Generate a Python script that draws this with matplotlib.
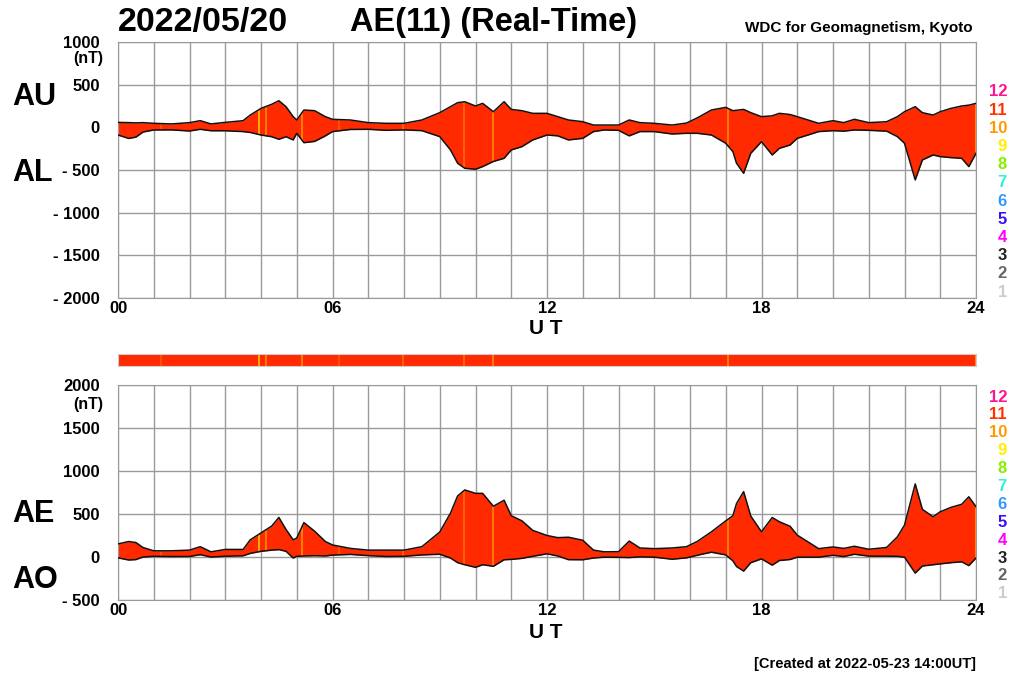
import numpy as np
import matplotlib
matplotlib.use("Agg")
import matplotlib.pyplot as plt

plt.rcParams['font.family'] = ['Liberation Sans', 'DejaVu Sans']
plt.rcParams['font.weight'] = 'bold'

# hours UT
t = [0, 0.3, 0.5, 0.7, 1, 1.5, 2, 2.3, 2.6, 3, 3.5, 3.7, 4, 4.3, 4.5, 4.7, 4.9, 5.0,
     5.2, 5.5, 5.8, 6, 6.5, 7, 7.5, 8, 8.5, 9, 9.3, 9.5, 9.7, 10, 10.2, 10.5, 10.8,
     11, 11.3, 11.6, 12, 12.3, 12.6, 13, 13.3, 13.6, 14, 14.3, 14.6, 15, 15.5, 15.9,
     16.2, 16.6, 17, 17.2, 17.3, 17.5, 17.7, 18, 18.3, 18.5, 18.8, 19, 19.3, 19.6,
     20, 20.3, 20.6, 21, 21.5, 21.8, 22, 22.3, 22.5, 22.8, 23, 23.3, 23.6, 23.8, 24]

au = [58, 55, 52, 55, 47, 40, 55, 78, 40, 58, 78, 144, 222, 270, 312, 242, 125, 86,
      203, 195, 125, 94, 86, 55, 47, 47, 86, 172, 242, 289, 300, 250, 281, 183, 300,
      210, 195, 164, 164, 125, 86, 66, 27, 27, 27, 86, 55, 47, 27, 50,
      110, 203, 234, 195, 200, 210, 172, 125, 135, 164, 150, 125, 86, 47,
      78, 55, 94, 55, 66, 125, 183, 242, 172, 144, 183, 222, 250, 260, 281]

al = [-90, -130, -115, -55, -31, -30, -43, -23, -40, -40, -50, -60, -90, -110, -140, -110, -148, -70,
      -180, -165, -100, -50, -25, -23, -35, -30, -39, -109, -265, -421, -480, -491, -460, -400, -363,
      -265, -226, -148, -90, -100, -148, -129, -50, -31, -35, -100, -50, -50, -78, -70,
      -70, -90, -187, -285, -420, -538, -304, -168, -324, -246, -207, -129, -90, -50,
      -39, -45, -31, -35, -45, -109, -187, -616, -382, -324, -343, -355, -363, -460, -304]

ae = [152, 180, 168, 110, 72, 72, 80, 120, 60, 88, 88, 200, 280, 360, 460, 320, 200, 220,
      400, 300, 180, 140, 100, 80, 80, 80, 120, 290, 510, 710, 780, 740, 740, 590, 660,
      480, 420, 310, 250, 225, 230, 195, 80, 60, 62, 185, 105, 97, 105, 120,
      180, 293, 420, 480, 620, 760, 476, 293, 459, 410, 357, 254, 176, 97,
      117, 100, 125, 90, 111, 234, 370, 850, 554, 468, 526, 577, 613, 700, 585]

ao = [-10, -35, -30, 0, 8, 5, 6, 27, 0, 9, 14, 42, 66, 80, 86, 66, -12, 8,
      12, 15, 12, 22, 30, 16, 6, 8, 24, 32, -12, -66, -90, -120, -90, -108, -32,
      -28, -16, 8, 37, 12, -31, -32, -12, -2, -4, -7, 2, -2, -26, -10,
      20, 56, 24, -45, -110, -164, -66, -22, -95, -41, -29, -2, -2, -2,
      20, 5, 32, 10, 10, 8, -2, -187, -105, -90, -80, -66, -56, -100, -12]

# times where fewer stations were used (lighter stripes)
stripe_t = [1.2, 3.94, 4.14, 5.16, 6.18, 7.96, 9.68, 10.5, 17.05, 24.0]
stripe_c = ['#ff5a00', '#ffc400', '#ff8c00', '#ff9000', '#ff5a00', '#ff7000',
            '#ff7000', '#ff8c00', '#ff8c00', '#ff9900']

station_n = ['12', '11', '10', '9', '8', '7', '6', '5', '4', '3', '2', '1']
station_c = ['#ff1493', '#ff3300', '#ff9900', '#ffee00', '#88ee00', '#33eedd',
             '#3399ff', '#3311ff', '#ff00ff', '#222222', '#666666', '#cccccc']

RED = '#ff2a00'
W, H = 1011, 680


def px(x, y):
    return x / W, 1 - y / H


def panel(rect, lo, hi, ylim, yticks, ylabels):
    ax = fig.add_axes(rect)
    ax.fill_between(t, lo, hi, color=RED, lw=0, zorder=2)
    tt = np.array(t)
    for s, c in zip(stripe_t, stripe_c):
        ax.vlines(s, np.interp(s, tt, lo), np.interp(s, tt, hi), color=c, lw=1.2, zorder=3)
    ax.plot(t, hi, color='#111111', lw=1.1, zorder=4)
    ax.plot(t, lo, color='#111111', lw=1.1, zorder=4)
    ax.set_xlim(0, 24)
    ax.set_ylim(*ylim)
    ax.set_xticks(range(25))
    ax.set_xticklabels(['%02d' % h if h % 6 == 0 else '' for h in range(25)], fontsize=12)
    ax.set_yticks(yticks)
    ax.set_yticklabels(ylabels, fontsize=12)
    ax.tick_params(length=0)
    ax.tick_params(axis='y', pad=13)
    ax.tick_params(axis='x', pad=2)
    ax.grid(color='#9a9a9a', lw=1, zorder=1)
    for sp in ax.spines.values():
        sp.set_color('#9a9a9a')
    return ax


fig = plt.figure(figsize=(W / 100, H / 100), dpi=100)

ax1 = panel([118 / W, 1 - 298 / H, 858 / W, 256 / H], al, au, (-2000, 1000),
            [1000, 500, 0, -500, -1000, -1500, -2000],
            ['1000', '500', '0', '- 500', '- 1000', '- 1500', '- 2000'])
ax2 = panel([118 / W, 1 - 600 / H, 858 / W, 215 / H], ao, ae, (-500, 2000),
            [2000, 1500, 1000, 500, 0, -500],
            ['2000', '1500', '1000', '500', '0', '- 500'])

# station strip
ax3 = fig.add_axes([118 / W, 1 - 366 / H, 858 / W, 12 / H])
ax3.axvspan(0, 24, color=RED, lw=0)
for s, c in zip(stripe_t, stripe_c):
    ax3.axvline(s, color=c, lw=1.2)
ax3.set_xlim(0, 24)
ax3.set_ylim(0, 1)
ax3.set_xticks([])
ax3.set_yticks([])
for sp in ax3.spines.values():
    sp.set_color('#cccccc')

fig.text(*px(118, 22), '2022/05/20', fontsize=24.5, ha='left', va='center')
fig.text(*px(350, 22), 'AE(11) (Real-Time)', fontsize=23.5, ha='left', va='center')
fig.text(*px(973, 28), 'WDC for Geomagnetism, Kyoto', fontsize=11, ha='right', va='center')

fig.text(*px(12, 97), 'AU', fontsize=22, ha='left', va='center')
fig.text(*px(12, 173), 'AL', fontsize=22, ha='left', va='center')
fig.text(*px(12, 514), 'AE', fontsize=22, ha='left', va='center')
fig.text(*px(12, 580), 'AO', fontsize=22, ha='left', va='center')

fig.text(*px(103, 58), '(nT)', fontsize=11.5, ha='right', va='center')
fig.text(*px(103, 405), '(nT)', fontsize=11.5, ha='right', va='center')

fig.text(*px(546, 328), 'U T', fontsize=15, ha='center', va='center')
fig.text(*px(546, 632), 'U T', fontsize=15, ha='center', va='center')

for i, (n, c) in enumerate(zip(station_n, station_c)):
    fig.text(*px(1007, 92 + i * 18.2), n, fontsize=12, color=c, ha='right', va='center')
    fig.text(*px(1007, 397 + i * 17.9), n, fontsize=12, color=c, ha='right', va='center')

fig.text(*px(976, 664), '[Created at 2022-05-23 14:00UT]', fontsize=10.5,
         ha='right', va='center')

fig.savefig('out.png', dpi=100)
